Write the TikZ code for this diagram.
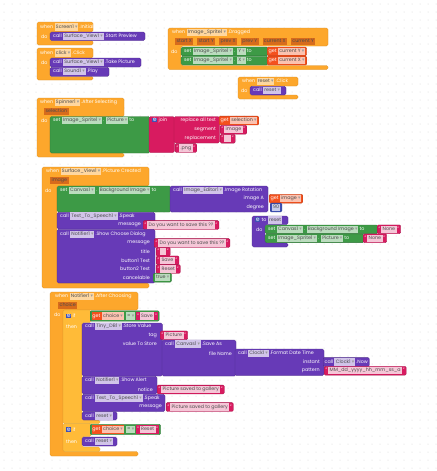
\documentclass[tikz,border=0pt]{standalone}
\usepackage{fontspec}
\setmainfont{Poppins}
\newfontfamily\symf{DejaVu Sans}
\usetikzlibrary{positioning}

\definecolor{evt}{HTML}{FDA72C}
\definecolor{ctl}{HTML}{FFBB38}
\definecolor{mth}{HTML}{673AB7}
\definecolor{setc}{HTML}{3D9A46}
\definecolor{strc}{HTML}{D81B60}
\definecolor{getc}{HTML}{F4511E}
\definecolor{numc}{HTML}{3F51B5}
\definecolor{dotc}{HTML}{D4D4D4}
\colorlet{evtin}{evt!45!white}
\colorlet{prmc}{evt!75!red!85!black}
\colorlet{mthin}{mth!30!white}
\colorlet{setin}{setc!35!white}
\colorlet{getin}{getc!35!white}
\colorlet{strin}{strc!25!white}
\colorlet{numin}{numc!30!white}

\setlength{\fboxsep}{0.8pt}
\newcommand{\bk}{\fontsize{4.8}{5.6}\selectfont}
% inline fields
\newcommand{\ddx}[2]{\colorbox{#1}{\color{black!70}\strut\hspace{0.6pt}#2\hspace{1.2pt}{\symf\color{black!40}▾}}}
\newcommand{\fld}[2]{\colorbox{#1}{\color{black!70}\strut\hspace{0.6pt}#2\hspace{0.6pt}}}
\newcommand{\ddp}[1]{\ddx{mthin}{#1}}
\newcommand{\ddg}[1]{\ddx{setin}{#1}}
\newcommand{\ddo}[1]{\ddx{evtin}{#1}}
\newcommand{\ddr}[1]{\ddx{getin}{#1}}
\newcommand{\prm}[1]{\fld{prmc}{#1}}
\newcommand{\stxt}[1]{{\color{white}"}\,\fld{strin}{#1}\,{\color{white}"}}
\newcommand{\gear}{{\setlength{\fboxsep}{0.4pt}\colorbox{numc}{\symf\color{white}⚙}}}
% C-shaped block: style, x0, y0, header right, header bottom, arm right, arm bottom, foot right, foot bottom
\newcommand{\cblk}[9]{\path[#1] (#2,#3) -- (#4,#3) -- (#4,#5) -- (#6,#5) -- (#6,#7) -- (#8,#7) -- (#8,#9) -- (#2,#9) -- cycle;}

\begin{document}
\begin{tikzpicture}[x=1pt, y=-1pt,
  row/.style={anchor=west, inner sep=0pt, text=white, font=\bk},
  rlab/.style={anchor=east, inner sep=0pt, text=white, font=\bk},
  evtb/.style={fill=evt, draw=evt!85!black, line width=0.3pt, rounded corners=1.5pt},
  ctlb/.style={fill=ctl, draw=ctl!85!black, line width=0.3pt, rounded corners=1.5pt},
  mthb/.style={fill=mth, draw=mth!75!black, line width=0.3pt, rounded corners=1.5pt},
  setb/.style={fill=setc, draw=setc!75!black, line width=0.3pt, rounded corners=1.5pt},
  strb/.style={fill=strc, draw=strc!75!black, line width=0.3pt, rounded corners=1.5pt},
  inp/.style={anchor=west, inner xsep=1.5pt, inner ysep=0.8pt, rounded corners=1.2pt,
    text=white, font=\bk, line width=0.3pt},
  getn/.style={inp, fill=getc, draw=getc!75!black},
  strn/.style={inp, fill=strc, draw=strc!75!black},
  numn/.style={inp, fill=numc, draw=numc!75!black},
  logn/.style={inp, fill=setc, draw=setc!75!black},
  mthn/.style={inp, fill=mth, draw=mth!75!black}
]
\fill[white] (0,0) rectangle (435,471);
\foreach \i in {0,...,54}{\foreach \j in {0,...,58}{\fill[dotc] (\i*8+4,\j*8+4) circle (0.5);}}
\useasboundingbox (0,0) rectangle (435,471);

% Screen1.Initialize
\cblk{evtb}{37}{22}{93}{32}{50}{40.5}{93}{45}
\node[row] (initH) at (40,27) {when \ddo{Screen1} .Initialize};
\node[row] (initDo) at (41,36.3) {do};
\path[mthb] (50,32) rectangle (145,40.5);
\node[row] (startPrev) at (53,36.3) {call \ddp{Surface\_View1} .Start Preview};

% click.Click
\cblk{evtb}{37}{48}{93}{58}{50}{76.5}{93}{80}
\node[row] (clickH) at (40,53) {when \ddo{click} .Click};
\node[row] (clickDo) at (41,62.5) {do};
\path[mthb] (50,58) rectangle (141,67);
\node[row] (takePic) at (53,62.5) {call \ddp{Surface\_View1} .Take Picture};
\path[mthb] (50,67.3) rectangle (109,76.3);
\node[row] (play) at (53,71.8) {call \ddp{Sound1} .Play};

% Image_Sprite1.Dragged
\cblk{evtb}{168}{28}{328}{46}{181}{65.5}{328}{69.5}
\node[row] (dragH) at (172,32.5) {when \ddo{Image\_Sprite1} .Dragged};
\node[row] (dragP) at (175,41.5) {\prm{start X}\hspace{4pt}\prm{start Y}\hspace{4pt}\prm{prev X}\hspace{4pt}\prm{prev Y}\hspace{4pt}\prm{current X}\hspace{4pt}\prm{current Y}};
\node[row] (dragDo) at (171,52) {do};
\path[setb] (181,47) rectangle (268,55.8);
\node[row] (setY) at (184,51.4) {set \ddg{Image\_Sprite1} . \ddg{Y} to};
\node[getn] (curY) at (267,51.4) {get \ddr{current Y}};
\path[setb] (181,56.3) rectangle (268,65);
\node[row] (setX) at (184,60.6) {set \ddg{Image\_Sprite1} . \ddg{X} to};
\node[getn] (curX) at (267,60.6) {get \ddr{current X}};

% reset.Click
\cblk{evtb}{238}{77}{298}{86}{250}{95}{298}{99}
\node[row] (rstH) at (242,81.5) {when \ddo{reset} .Click};
\node[row] (rstDo) at (241,90.6) {do};
\path[mthb] (250,86.3) rectangle (286,95);
\node[row] (rstCall) at (253,90.6) {call \ddp{reset}};

% Spinner1.AfterSelecting
\cblk{evtb}{37}{98}{124}{116.5}{50}{153}{124}{157}
\node[row] (spinH) at (40,102.5) {when \ddo{Spinner1} .After Selecting};
\node[row] (spinP) at (44,111.5) {\prm{selection}};
\node[row] (spinDo) at (41,120.5) {do};
\path[setb] (50,116.5) rectangle (150,153);
\node[row] (setPic) at (53,120.5) {set \ddg{Image\_Sprite1} . \ddg{Picture} to};
\path[strb] (149,116.5) rectangle (174.5,152.5);
\node[row] (joinL) at (152,120.5) {\gear\ join};
\path[strb] (174,116.5) rectangle (219.5,143);
\node[rlab] (rplA) at (216,120.5) {replace all text};
\node[rlab] (rplS) at (216,129.7) {segment};
\node[rlab] (rplR) at (216,138.7) {replacement};
\node[getn] (getSel) at (219,120.5) {get \ddr{selection}};
\node[strn] (sImg) at (220,129.7) {\stxt{image}};
\node[strn] (sEmp) at (220,138.7) {\stxt{\hspace{4pt}}};
\node[strn] (sPng) at (175,148) {\stxt{.png}};

% Surface_View1.PictureCreated
\cblk{evtb}{42}{167}{149}{186}{57}{283}{149}{288}
\node[row] (picH) at (46,171.5) {when \ddo{Surface\_View1} .Picture Created};
\node[row] (picP) at (50,180.5) {\prm{image}};
\node[row] (picDo) at (45,190.5) {do};
\path[setb] (57,186) rectangle (171,212);
\node[row] (setBg) at (60,190.5) {set \ddg{Canvas1} . \ddg{Background Image} to};
\path[mthb] (170,186) rectangle (268,212);
\node[row] (rotH) at (173,190.5) {call \ddp{Image\_Editor1} .Image Rotation};
\node[rlab] (rotA) at (264,198.7) {image A};
\node[getn] (getImg) at (269,198.7) {get \ddr{image}};
\node[rlab] (rotD) at (264,207.5) {degree};
\node[numn] (deg) at (270,207.5) {\fld{numin}{90}};
\path[mthb] (57,212.3) rectangle (155,229);
\node[row] (spk1) at (60,216) {call \ddp{Text\_To\_Speech1} .Speak};
\node[rlab] (spk1M) at (141,225) {message};
\node[strn] (spk1S) at (143,225) {\stxt{Do you want to save this ??}};
\path[mthb] (57,229.3) rectangle (155,283);
\node[row] (dlgH) at (60,234.5) {call \ddp{Notifier1} .Show Choose Dialog};
\node[rlab] (dlgM) at (150,243) {message};
\node[strn] (dlgMS) at (154,243) {\stxt{Do you want to save this ??}};
\node[rlab] (dlgT) at (150,251.7) {title};
\node[strn] (dlgTS) at (156,251.7) {\stxt{\hspace{3pt}}};
\node[rlab] (dlgB1) at (150,260.3) {button1 Text};
\node[strn] (dlgB1S) at (156,260.3) {\stxt{Save}};
\node[rlab] (dlgB2) at (150,269) {button2 Text};
\node[strn] (dlgB2S) at (156,269) {\stxt{Reset}};
\node[rlab] (dlgC) at (150,277.7) {cancelable};
\node[logn] (dlgCS) at (153,277.7) {\ddg{true}};

% procedure reset
\cblk{mthb}{252}{216}{288}{224.5}{265}{243}{288}{247}
\node[row] (procH) at (255,220) {\gear\ to \fld{mthin}{reset}};
\node[row] (procDo) at (256,230) {do};
\path[setb] (265,225) rectangle (378,233.6);
\node[row] (pSet1) at (268,229.3) {set \ddg{Canvas1} . \ddg{Background Image} to};
\node[strn] (pNone1) at (377,229.3) {\stxt{None}};
\path[setb] (265,234) rectangle (364,242.6);
\node[row] (pSet2) at (268,238.3) {set \ddg{Image\_Sprite1} . \ddg{Picture} to};
\node[strn] (pNone2) at (363,238.3) {\stxt{None}};

% Notifier1.AfterChoosing
\cblk{evtb}{50}{292}{138}{310}{63}{451.5}{138}{456}
\node[row] (chH) at (55,296.3) {when \ddo{Notifier1} .After Choosing};
\node[row] (chP) at (58,305.5) {\prm{choice}};
\node[row] (chDo) at (54,315) {do};
% if choice = Save
\cblk{ctlb}{63}{310}{91}{322.5}{82}{420}{100}{423.5}
\node[row] (if1) at (66,316) {\gear\ if};
\node[row] (then1) at (66,327) {then};
\node[logn] (cmp1) at (90,316) {\colorbox{getc}{get \ddr{choice}}\ \ddg{=}\ \colorbox{strc}{\stxt{Save}}};
\path[mthb] (82,323) rectangle (162.5,376);
\node[row] (stH) at (85,326.8) {call \ddp{Tiny\_DB1} .Store Value};
\node[rlab] (stTag) at (157,335.3) {tag};
\node[strn] (stTagS) at (160,335.3) {\stxt{Picture}};
\node[rlab] (stVal) at (157,344) {value To Store};
\path[mthb] (162,340) rectangle (236,376);
\node[row] (saveH) at (165,344) {call \ddp{Canvas1} .Save As};
\node[rlab] (saveFn) at (232,353.3) {file Name};
\path[mthb] (235,349) rectangle (324,375.5);
\node[row] (fmtH) at (238,353.3) {call \ddp{Clock1} .Format Date Time};
\node[rlab] (fmtI) at (320,362) {instant};
\node[mthn] (now) at (323,362) {call \ddp{Clock1} .Now};
\node[rlab] (fmtP) at (320,370.7) {pattern};
\node[strn] (pat) at (324,370.7) {\stxt{MM\_dd\_yyyy\_hh\_mm\_ss\_a}};
\path[mthb] (82,376.3) rectangle (157,394);
\node[row] (alH) at (85,380.3) {call \ddp{Notifier1} .Show Alert};
\node[rlab] (alN) at (153,389.5) {notice};
\node[strn] (alS) at (157,389.5) {\stxt{Picture saved to gallery}};
\path[mthb] (82,394.3) rectangle (165,411.5);
\node[row] (spk2) at (85,398) {call \ddp{Text\_To\_Speech1} .Speak};
\node[rlab] (spk2M) at (162,407) {message};
\node[strn] (spk2S) at (166,407) {\stxt{Picture saved to gallery}};
\path[mthb] (82,411.8) rectangle (117,420);
\node[row] (rst1) at (85,416) {call \ddp{reset}};
% if choice = Reset
\cblk{ctlb}{63}{423.5}{91}{436.5}{82}{447}{100}{451.5}
\node[row] (if2) at (66,429.5) {\gear\ if};
\node[logn] (cmp2) at (90,429.5) {\colorbox{getc}{get \ddr{choice}}\ \ddg{=}\ \colorbox{strc}{\stxt{Reset}}};
\node[row] (then2) at (66,441.5) {then};
\path[mthb] (82,437) rectangle (117,446);
\node[row] (rst2) at (85,441.5) {call \ddp{reset}};
\end{tikzpicture}
\end{document}
